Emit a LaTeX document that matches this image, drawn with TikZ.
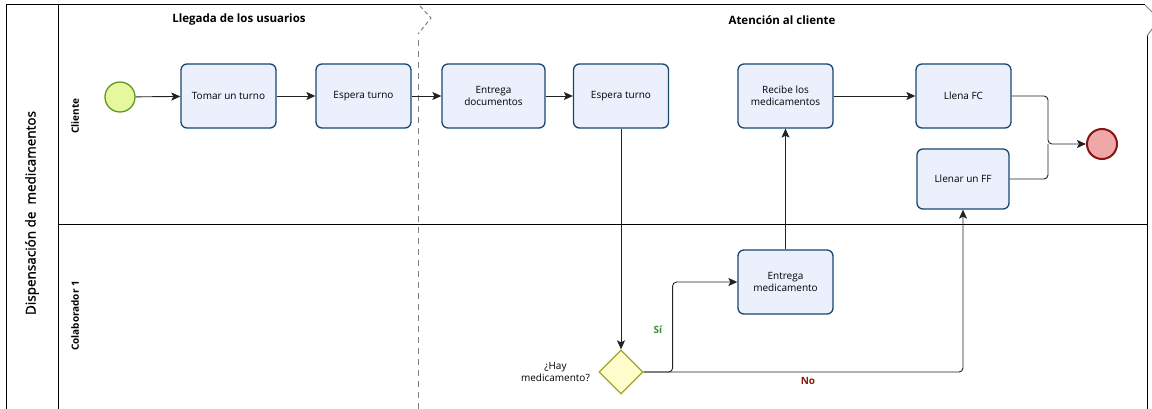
\documentclass[tikz,border=0pt]{standalone}
\usepackage{fontspec}
\setmainfont{Open Sans}
\newfontfamily\poolfont[FakeBold=1.5]{Open Sans}
\usetikzlibrary{arrows.meta,shapes.geometric,positioning}
\definecolor{taskline}{HTML}{17466F}
\definecolor{taskfill}{HTML}{ECF0FD}
\definecolor{startline}{HTML}{5E9A1F}
\definecolor{startfill}{HTML}{E6F89E}
\definecolor{endline}{HTML}{8A1414}
\definecolor{endfill}{HTML}{EFA8A8}
\definecolor{gateline}{HTML}{A3A32A}
\definecolor{gatefill}{HTML}{FFFDCB}
\definecolor{flowline}{HTML}{222222}
\definecolor{sigreen}{HTML}{3A8A3A}
\definecolor{nored}{HTML}{8A1A10}

\begin{document}
\begin{tikzpicture}[
  x=1pt, y=-1pt,
  >={Stealth[length=9pt, width=8pt, inset=2pt]},
  tasknode/.style={rectangle, rounded corners=6pt, draw=taskline, fill=taskfill, line width=1.3pt, minimum width=95pt, minimum height=64pt, align=center, font=\fontsize{10}{12.5}\selectfont},
  startnode/.style={circle, draw=startline, fill=startfill, line width=1.3pt, minimum size=30pt, inner sep=0pt},
  endnode/.style={circle, draw=endline, fill=endfill, line width=2pt, minimum size=30pt, inner sep=0pt},
  gatenode/.style={diamond, draw=gateline, fill=gatefill, line width=1.3pt, minimum width=44pt, minimum height=44pt, inner sep=0pt},
  flow/.style={->, draw=flowline, line width=0.9pt, rounded corners=4pt},
  lanetext/.style={font=\bfseries\fontsize{10}{12}\selectfont, rotate=90},
  phasetext/.style={font=\bfseries\fontsize{11.5}{14}\selectfont},
  milestone/.style={draw=gray, line width=1pt, dash pattern=on 6pt off 5pt},
  ]

\useasboundingbox (0,0) rectangle (1152,409);

\draw[line width=1pt] (1145,5) -- (6,5) -- (6,409);
\draw[line width=1pt] (58,5) -- (58,409);
\draw[line width=1pt] (58,224) -- (1147,224);
\draw[line width=1pt] (1147,36) -- (1147,409);
\draw[draw=gray, line width=1pt] (1145,5) -- (1152,12);
\draw[draw=gray, line width=1pt] (1152,29) -- (1147,36);
\draw[draw=gray, line width=1pt, dash pattern=on 4pt off 3pt] (420,6) -- (431,18) -- (418,34);
\draw[milestone] (418,40) -- (418,409);

\node[font=\poolfont\fontsize{13.5}{16}\selectfont, rotate=90] (pool) at (32,213) {Dispensación de \ medicamentos};
\node[lanetext] (cliente) at (75,116) {Cliente};
\node[lanetext] (colab) at (75,316) {Colaborador 1};
\node[phasetext] (fase1) at (239,20) {Llegada de los usuarios};
\node[phasetext] (fase2) at (782,20) {Atención al cliente};

\node[startnode] (start) at (120,97) {};
\node[tasknode] (turno) at (228.5,96) {Tomar un turno};
\node[tasknode] (espera1) at (363.5,96) {Espera turno};
\node[tasknode, minimum width=103pt] (docs) at (493.5,96) {Entrega\\documentos};
\node[tasknode] (espera2) at (621,96) {Espera turno};
\node[tasknode] (recibe) at (785.5,96) {Recibe los\\medicamentos};
\node[tasknode] (fc) at (963.5,96) {Llena FC};
\node[tasknode, minimum width=92pt, minimum height=60pt] (ff) at (963,179) {Llenar un FF};
\node[endnode] (fin) at (1102,144) {};
\node[tasknode] (entmed) at (785.5,282) {Entrega\\medicamento};
\node[gatenode] (gw) at (621,372) {};
\node[left=5pt of gw, align=center, font=\fontsize{10}{12.5}\selectfont] (pregunta) {¿Hay\\medicamento?};

\coordinate (join) at (1048,144);

\draw[flow] (start) -- (turno);
\draw[flow] (turno) -- (espera1);
\draw[flow] (espera1) -- (docs);
\draw[flow] (docs) -- (espera2);
\draw[flow] (espera2) -- (gw);
\draw[flow] (gw.east) -- ++(29,0) |- (entmed.west);
\draw[flow] (gw.east) -| (ff.south);
\draw[flow] (entmed) -- (recibe);
\draw[flow] (recibe) -- (fc);
\draw[flow] (fc.east) -| (join) -- (fin.west);
\draw[flow, -] (ff.east) -| (join);

\node[text=sigreen, font=\bfseries\fontsize{10}{12}\selectfont] (si) at (658,330) {Sí};
\node[text=nored, font=\bfseries\fontsize{10}{12}\selectfont] (no) at (808,381) {No};

\end{tikzpicture}
\end{document}
